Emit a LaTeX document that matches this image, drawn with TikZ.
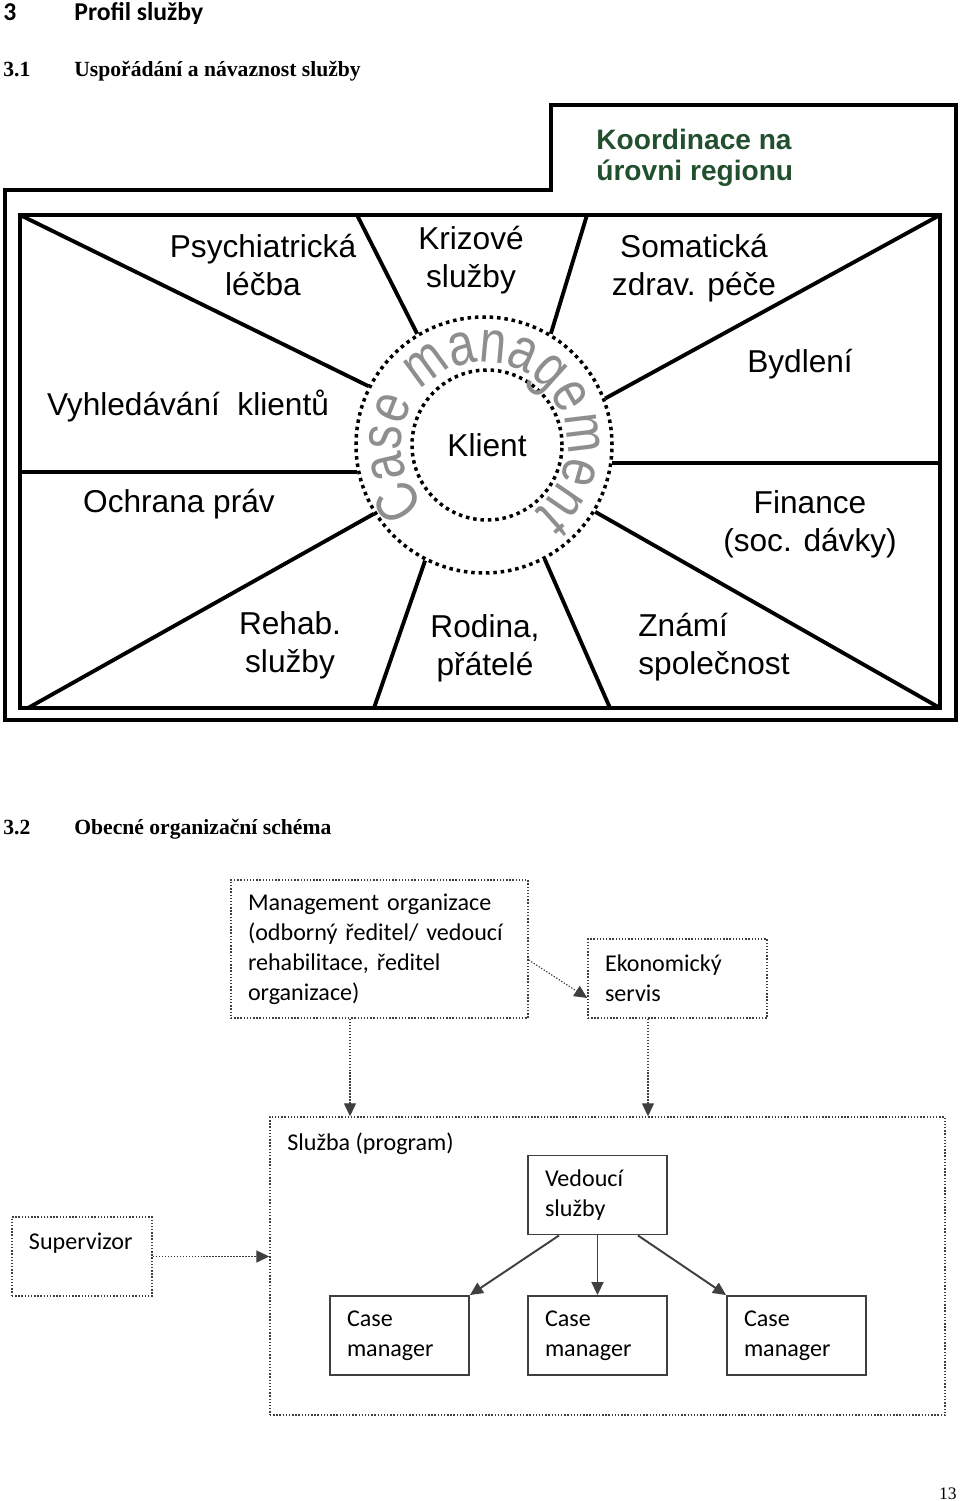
\documentclass[tikz,border=0pt]{standalone}
\usepackage{fontspec}
\setmainfont{Liberation Serif}
\setsansfont{Liberation Sans}
\newfontfamily\calibrifont{Carlito}
\newfontfamily\arcfont[FakeStretch=0.8]{Liberation Sans}
\usetikzlibrary{arrows.meta,decorations.text}

\definecolor{regiongreen}{HTML}{22502E}
\definecolor{cmgray}{HTML}{8E8E8E}
\definecolor{linegray}{HTML}{3F3F3F}

\tikzset{
	heading/.style = {anchor=base west, inner sep=0pt, font=\bfseries\fontsize{12.3}{14}\selectfont},
	sector/.style = {font=\sffamily\fontsize{18}{21.6}\selectfont, align=center, inner sep=0pt},
	ring/.style = {circle, draw, line width=2pt, dash pattern=on 2pt off 2.2pt},
	spoke/.style = {line width=2.2pt},
	orgtext/.style = {font=\calibrifont\fontsize{13.7}{17.1}\selectfont, align=left, inner xsep=3.4mm, inner ysep=0pt},
	dotbox/.style = {orgtext, draw=linegray, line width=0.8pt, densely dotted},
	solidbox/.style = {orgtext, draw=linegray, line width=1.1pt},
	orgarrow/.style = {draw=linegray, -{Triangle[length=2.6mm,width=2.4mm]}},
}

\begin{document}
\begin{tikzpicture}[x=0.2mm, y=-0.2mm]
	\useasboundingbox (0,0) rectangle (960,1501);

	\node[heading, font=\calibrifont\bfseries\fontsize{14.6}{17}\selectfont] (chnum) at (3,20) {3};
	\node[heading, font=\calibrifont\bfseries\fontsize{14.6}{17}\selectfont] (chtitle) at (74,20) {Profil služby};
	\node[heading] (secAnum) at (3,76) {3.1};
	\node[heading] (secAtitle) at (74,76) {Uspořádání a návaznost služby};

	\draw[line width=2.2pt] (5,190) -- (551,190) -- (551,105) -- (956,105) -- (956,720) -- (5,720) -- cycle;
	\node[anchor=west, align=left, inner sep=0pt, text=regiongreen, font=\sffamily\bfseries\fontsize{16}{17.6}\selectfont] (koord) at (596,158) {Koordinace na\\úrovni regionu};

	\node[draw, line width=2.2pt, inner sep=0pt, outer sep=0pt, minimum width=184mm, minimum height=98.6mm] (frame) at (480,461.5) {};

	\node[ring, minimum size=51.2mm] (cm) at (484,445) {};
	\node[ring, sector, minimum size=30mm] (klient) at (487,445) {Klient};
	\path[decorate, decoration={text along path, text align=fit to path,
		text={|\arcfont\fontsize{34}{34}\selectfont\color{cmgray}|Case management}}]
		(cm.center) ++(226:16.6mm) arc[start angle=226, end angle=-50, radius=16.6mm];

	\draw[spoke] (frame.north west) -- (cm.153);
	\draw[spoke] ([xshift=-24.6mm]frame.north) -- (cm.121);
	\draw[spoke] ([xshift=21.4mm]frame.north) -- (cm.59.5);
	\draw[spoke] (frame.north east) -- (cm.21);
	\draw[spoke] (cm.-8) -- (cm.-8 -| frame.east);
	\draw[spoke] (cm.-31) -- (frame.south east);
	\draw[spoke] (cm.-62) -- ([xshift=26mm]frame.south);
	\draw[spoke] (cm.-117) -- ([xshift=-21.2mm]frame.south);
	\draw[spoke] (cm.-148) -- ([xshift=1.6mm]frame.south west);
	\draw[spoke] (frame.west |- cm.192) -- (cm.192);

	\node[sector] (psych) at (263,265) {Psychiatrická\\léčba};
	\node[sector] (krize) at (471,260) {Krizové\\služby};
	\node[sector] (somat) at (694,268) {Somatická\\zdrav. péče};
	\node[sector] (bydleni) at (800,364) {Bydlení};
	\node[sector] (vyhled) at (188,406) {Vyhledávání~~klientů};
	\node[sector] (ochrana) at (179,504) {Ochrana práv};
	\node[sector] (finance) at (810,524) {Finance\\(soc. dávky)};
	\node[sector] (rehab) at (290,645) {Rehab.\\služby};
	\node[sector] (rodina) at (485,648) {Rodina,\\přátelé};
	\node[sector, align=left, anchor=west] (znami) at (638,647) {Známí\\společnost};

	\node[heading] (secBnum) at (3,834) {3.2};
	\node[heading] (secBtitle) at (74,834) {Obecné organizační schéma};

	\node[dotbox, text width=52.6mm, minimum height=27.6mm] (mgmt) at (379.5,949) {Management organizace\\(odborný ředitel/ vedoucí\\rehabilitace, ředitel\\organizace)};
	\node[dotbox, text width=29mm, minimum height=15.8mm] (ekon) at (677.5,978.5) {Ekonomický\\servis};
	\node[dotbox, minimum width=135mm, minimum height=59.6mm] (sluzba) at (607.5,1266) {};
	\node[orgtext, anchor=base west, inner xsep=0pt] (sluzbalabel) at (287,1150) {Služba (program)};
	\node[dotbox, text width=21.2mm, minimum height=15.8mm] (super) at (82,1256.5) {Supervizor\\\mbox{}};
	\node[solidbox, text width=21mm, minimum height=15.8mm] (vedouci) at (597.5,1195) {Vedoucí\\služby};
	\node[solidbox, text width=21mm, minimum height=15.8mm] (cmA) at (399.5,1335.5) {Case\\manager};
	\node[solidbox, text width=21mm, minimum height=15.8mm] (cmB) at (597.5,1335.5) {Case\\manager};
	\node[solidbox, text width=21mm, minimum height=15.8mm] (cmC) at (796.5,1335.5) {Case\\manager};

	\draw[orgarrow, densely dotted, line width=0.7pt] ([yshift=-2.2mm]mgmt.east) -- ([yshift=-3.9mm]ekon.west);
	\draw[orgarrow, densely dotted, line width=0.7pt] ([xshift=-5.9mm]mgmt.south) -- ([xshift=-5.9mm]mgmt.south |- sluzba.north);
	\draw[orgarrow, densely dotted, line width=0.7pt] ([xshift=-5.9mm]ekon.south) -- ([xshift=-5.9mm]ekon.south |- sluzba.north);
	\draw[orgarrow, densely dotted, line width=0.7pt] (super.east) -- (super.east -| sluzba.west);
	\draw[orgarrow, line width=1.1pt] ([xshift=-7.7mm]vedouci.south) -- (cmA.north east);
	\draw[orgarrow, line width=1.1pt] (vedouci.south) -- (cmB.north);
	\draw[orgarrow, line width=1.1pt] ([xshift=8.1mm]vedouci.south) -- (cmC.north west);

	\node[anchor=base east, inner sep=0pt, font=\fontsize{10}{12}\selectfont] (pagenum) at (957,1499) {13};
\end{tikzpicture}
\end{document}
